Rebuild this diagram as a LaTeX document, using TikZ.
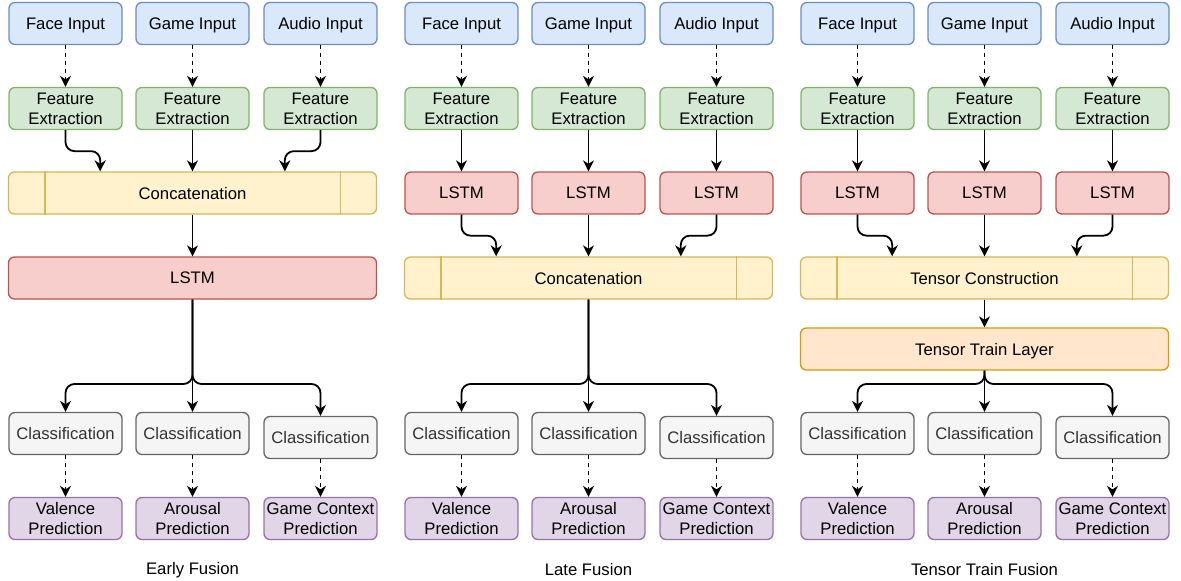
\documentclass[tikz,border=0pt]{standalone}
\usepackage{fontspec}
\setmainfont{Liberation Sans}
\usetikzlibrary{arrows.meta,calc}
\definecolor{blueF}{HTML}{DAE8FC}\definecolor{blueD}{HTML}{6C8EBF}
\definecolor{greenF}{HTML}{D5E8D4}\definecolor{greenD}{HTML}{82B366}
\definecolor{yelF}{HTML}{FFF2CC}\definecolor{yelD}{HTML}{D6B656}
\definecolor{redF}{HTML}{F8CECC}\definecolor{redD}{HTML}{B85450}
\definecolor{orF}{HTML}{FFE6CC}\definecolor{orD}{HTML}{D79B00}
\definecolor{grayF}{HTML}{F5F5F5}\definecolor{grayD}{HTML}{666666}\definecolor{grayT}{HTML}{333333}
\definecolor{purF}{HTML}{E1D5E7}\definecolor{purD}{HTML}{9673A6}
\tikzset{
  box/.style={rounded corners=6pt, line width=1.3pt, minimum width=113pt, minimum height=42pt,
    inner sep=0pt, align=center, text depth=0pt, font=\fontsize{16.7}{20}\selectfont},
  inbox/.style={box, fill=blueF, draw=blueD},
  febox/.style={box, fill=greenF, draw=greenD},
  lstmbox/.style={box, fill=redF, draw=redD},
  catbox/.style={box, fill=yelF, draw=yelD, minimum width=368pt},
  ttbox/.style={box, fill=orF, draw=orD, minimum width=368pt},
  clbox/.style={box, fill=grayF, draw=grayD, text=grayT},
  prbox/.style={box, fill=purF, draw=purD},
  captxt/.style={font=\fontsize{16.7}{20}\selectfont},
  arr/.style={line width=1.8pt, -{Stealth[length=11pt,width=11pt,inset=3.5pt]}},
  darr/.style={arr, dash pattern=on 4pt off 4pt},
  curvy/.style={arr, rounded corners=9pt},
  divline/.style={draw=yelD, line width=1.3pt},
}
\begin{document}
\begin{tikzpicture}[x=1pt,y=-1pt]
\useasboundingbox (0,0) rectangle (1181,581);
\foreach \p/\ox/\capt in {a/0/Early Fusion, b/396/Late Fusion, c/792/Tensor Train Fusion}{
  \foreach \i/\cx/\lab/\pred/\cy in {1/65.5/Face Input/{Valence\\Prediction}/433.5,
                                    2/192.5/Game Input/{Arousal\\Prediction}/433.5,
                                    3/320.5/Audio Input/{Game Context\\Prediction}/437.5}{
    \node[inbox] (in\p\i) at ({\ox+\cx},23.5) {\lab};
    \node[febox] (fe\p\i) at ({\ox+\cx},108.5) {Feature\\Extraction};
    \node[clbox] (cl\p\i) at ({\ox+\cx},\cy) {Classification};
    \node[prbox] (pr\p\i) at ({\ox+\cx},518.5) {\pred};
    \draw[darr] (in\p\i) -- (fe\p\i);
    \draw[darr] (cl\p\i) -- (pr\p\i);
  }
  \node[captxt] (cap\p) at ({\ox+192.5},570) {\capt};
  \coordinate (br\p) at ({\ox+192.5},384);
}
% ---------- Early fusion ----------
\node[catbox] (cata) at (192.5,193) {Concatenation};
\draw[divline] ($(cata.north west)+(37,0)$) -- ($(cata.south west)+(37,0)$);
\draw[divline] ($(cata.north east)+(-37,0)$) -- ($(cata.south east)+(-37,0)$);
\draw[curvy] (fea1.south) -- ++(0,21) -| ($(cata.north west)!0.25!(cata.north east)$);
\draw[arr] (fea2.south) -- (fea2.south |- cata.north);
\draw[curvy] (fea3.south) -- ++(0,21) -| ($(cata.north west)!0.75!(cata.north east)$);
\node[lstmbox, minimum width=368pt] (lstma) at (192.5,278) {LSTM};
\draw[arr] (cata) -- (lstma);
\draw[curvy] (lstma.south) -- (bra) -| (cla1.north);
\draw[curvy] (lstma.south) -- (bra) -| (cla3.north);
\draw[arr] (lstma.south) -- (cla2.north);
% ---------- Late fusion ----------
\foreach \i/\cx in {1/65.5,2/192.5,3/320.5}{
  \node[lstmbox] (lsb\i) at ({396+\cx},193) {LSTM};
  \draw[arr] (feb\i) -- (lsb\i);
}
\node[catbox] (catb) at (588.5,278) {Concatenation};
\draw[divline] ($(catb.north west)+(37,0)$) -- ($(catb.south west)+(37,0)$);
\draw[divline] ($(catb.north east)+(-37,0)$) -- ($(catb.south east)+(-37,0)$);
\draw[curvy] (lsb1.south) -- ++(0,21) -| ($(catb.north west)!0.25!(catb.north east)$);
\draw[arr] (lsb2.south) -- (lsb2.south |- catb.north);
\draw[curvy] (lsb3.south) -- ++(0,21) -| ($(catb.north west)!0.75!(catb.north east)$);
\draw[curvy] (catb.south) -- (brb) -| (clb1.north);
\draw[curvy] (catb.south) -- (brb) -| (clb3.north);
\draw[arr] (catb.south) -- (clb2.north);
% ---------- Tensor train fusion ----------
\foreach \i/\cx in {1/65.5,2/192.5,3/320.5}{
  \node[lstmbox] (lsc\i) at ({792+\cx},193) {LSTM};
  \draw[arr] (fec\i) -- (lsc\i);
}
\node[catbox] (tcc) at (984.5,278) {Tensor Construction};
\draw[divline] ($(tcc.north west)+(37,0)$) -- ($(tcc.south west)+(37,0)$);
\draw[divline] ($(tcc.north east)+(-37,0)$) -- ($(tcc.south east)+(-37,0)$);
\draw[curvy] (lsc1.south) -- ++(0,21) -| ($(tcc.north west)!0.25!(tcc.north east)$);
\draw[arr] (lsc2.south) -- (lsc2.south |- tcc.north);
\draw[curvy] (lsc3.south) -- ++(0,21) -| ($(tcc.north west)!0.75!(tcc.north east)$);
\node[ttbox] (ttc) at (984.5,349) {Tensor Train Layer};
\draw[arr] (tcc) -- (ttc);
\draw[curvy] (ttc.south) -- (brc) -| (clc1.north);
\draw[curvy] (ttc.south) -- (brc) -| (clc3.north);
\draw[arr] (ttc.south) -- (clc2.north);
\end{tikzpicture}
\end{document}
